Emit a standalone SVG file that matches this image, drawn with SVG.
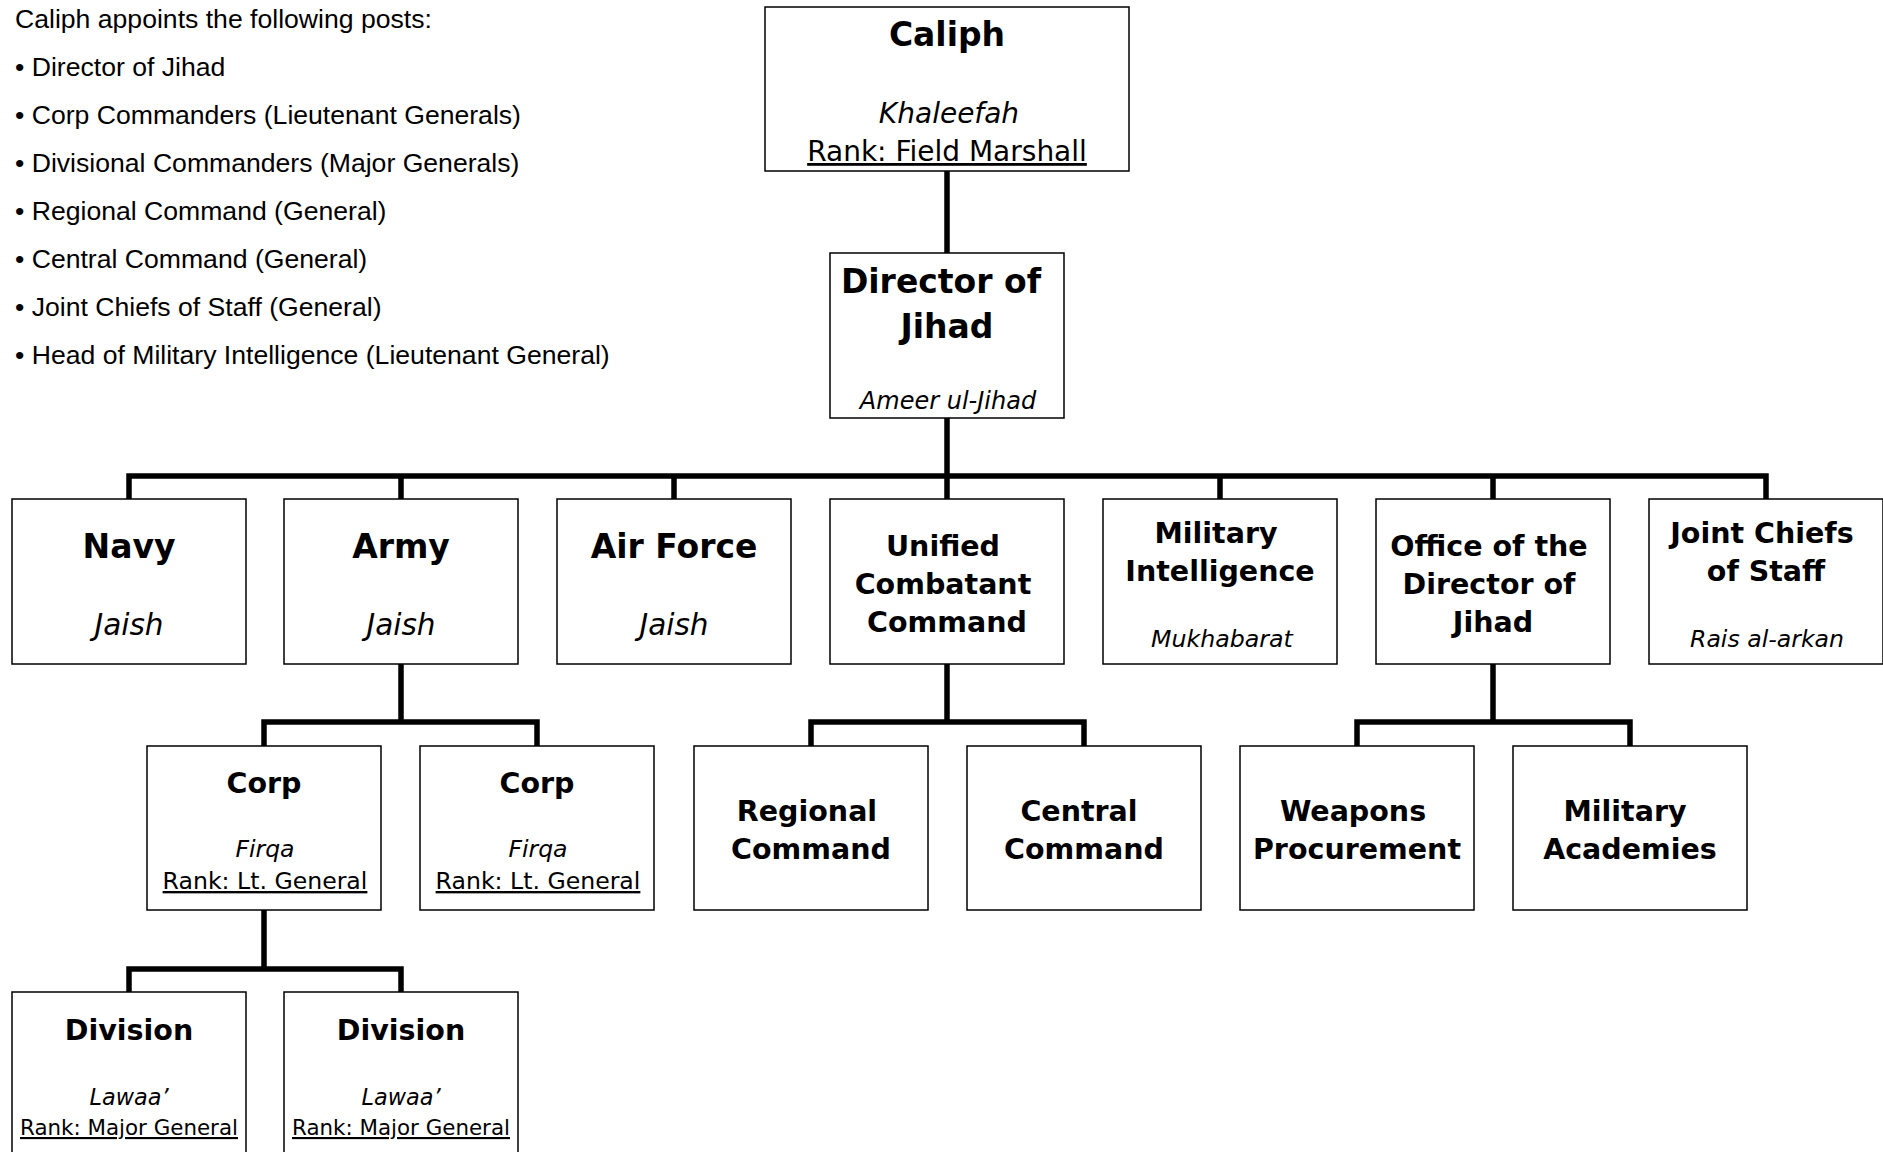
<svg xmlns="http://www.w3.org/2000/svg" width="1883" height="1152" viewBox="0 0 1883 1152">
<style>
.box{fill:#fff;stroke:#000;stroke-width:1.5}
.conn{fill:none;stroke:#000;stroke-width:5.5;stroke-linejoin:miter;stroke-linecap:butt}
.t1{font-family:"DejaVu Sans",sans-serif;font-weight:bold;font-size:33px;text-anchor:middle;fill:#000}
.t2{font-family:"DejaVu Sans",sans-serif;font-weight:bold;font-size:28.5px;text-anchor:middle;fill:#000}
.it{font-family:"DejaVu Sans",sans-serif;font-style:italic;text-anchor:middle;fill:#000}
.rk{font-family:"DejaVu Sans",sans-serif;text-anchor:middle;text-decoration:underline;fill:#000}
.list{font-family:"Liberation Sans",Arial,sans-serif;font-size:26.6px;fill:#000}
</style>
<rect width="1883" height="1152" fill="#fff"/>

<g id="appointments">
<text class="list" x="15" y="28">Caliph appoints the following posts:</text>
<text class="list" x="15" y="76">• Director of Jihad</text>
<text class="list" x="15" y="124">• Corp Commanders (Lieutenant Generals)</text>
<text class="list" x="15" y="172">• Divisional Commanders (Major Generals)</text>
<text class="list" x="15" y="220">• Regional Command (General)</text>
<text class="list" x="15" y="268">• Central Command (General)</text>
<text class="list" x="15" y="316">• Joint Chiefs of Staff (General)</text>
<text class="list" x="15" y="364">• Head of Military Intelligence (Lieutenant General)</text>
</g>

<g id="connectors">
<path class="conn" d="M947,171 V253"/>
<path class="conn" d="M947,418 V476"/>
<path class="conn" d="M129,499 V476 H1766 V499"/>
<path class="conn" d="M401,476 V499 M674,476 V499 M947,476 V499 M1220,476 V499 M1493,476 V499"/>
<path class="conn" d="M401,664 V722"/>
<path class="conn" d="M264,746 V722 H537 V746"/>
<path class="conn" d="M947,664 V722"/>
<path class="conn" d="M811,746 V722 H1084 V746"/>
<path class="conn" d="M1493,664 V722"/>
<path class="conn" d="M1357,746 V722 H1630 V746"/>
<path class="conn" d="M264,910 V969"/>
<path class="conn" d="M129,992 V969 H401 V992"/>
</g>

<g id="caliph">
<rect class="box" x="765" y="7" width="364" height="164"/>
<text class="t1" x="947" y="46">Caliph</text>
<text class="it" x="949" y="123" font-size="28">Khaleefah</text>
<text class="rk" x="947" y="161" font-size="28">Rank: Field Marshall</text>
</g>

<g id="director">
<rect class="box" x="830" y="253" width="234" height="165"/>
<text class="t1" x="941" y="293">Director of</text>
<text class="t1" x="947" y="338">Jihad</text>
<text class="it" x="948" y="409" font-size="24">Ameer ul-Jihad</text>
</g>

<g id="navy">
<rect class="box" x="12" y="499" width="234" height="165"/>
<text class="t1" x="129" y="558">Navy</text>
<text class="it" x="129" y="635" font-size="29.5">Jaish</text>
</g>

<g id="army">
<rect class="box" x="284" y="499" width="234" height="165"/>
<text class="t1" x="401" y="558">Army</text>
<text class="it" x="401" y="635" font-size="29.5">Jaish</text>
</g>

<g id="airforce">
<rect class="box" x="557" y="499" width="234" height="165"/>
<text class="t1" x="674" y="558">Air Force</text>
<text class="it" x="674" y="635" font-size="29.5">Jaish</text>
</g>

<g id="unified">
<rect class="box" x="830" y="499" width="234" height="165"/>
<text class="t2" x="943" y="556">Unified</text>
<text class="t2" x="943" y="594">Combatant</text>
<text class="t2" x="947" y="632">Command</text>
</g>

<g id="intelligence">
<rect class="box" x="1103" y="499" width="234" height="165"/>
<text class="t2" x="1216" y="543">Military</text>
<text class="t2" x="1220" y="581">Intelligence</text>
<text class="it" x="1222" y="647" font-size="23.7">Mukhabarat</text>
</g>

<g id="office">
<rect class="box" x="1376" y="499" width="234" height="165"/>
<text class="t2" x="1489" y="556">Office of the</text>
<text class="t2" x="1489" y="594">Director of</text>
<text class="t2" x="1493" y="632">Jihad</text>
</g>

<g id="jointchiefs">
<rect class="box" x="1649" y="499" width="234" height="165"/>
<text class="t2" x="1762" y="543">Joint Chiefs</text>
<text class="t2" x="1766" y="581">of Staff</text>
<text class="it" x="1767" y="647" font-size="23.6">Rais al-arkan</text>
</g>

<g id="corp1">
<rect class="box" x="147" y="746" width="234" height="164"/>
<text class="t2" x="264" y="793">Corp</text>
<text class="it" x="265" y="857" font-size="23.5">Firqa</text>
<text class="rk" x="265" y="889" font-size="23.6">Rank: Lt. General</text>
</g>

<g id="corp2">
<rect class="box" x="420" y="746" width="234" height="164"/>
<text class="t2" x="537" y="793">Corp</text>
<text class="it" x="538" y="857" font-size="23.5">Firqa</text>
<text class="rk" x="538" y="889" font-size="23.6">Rank: Lt. General</text>
</g>

<g id="regional">
<rect class="box" x="694" y="746" width="234" height="164"/>
<text class="t2" x="807" y="821">Regional</text>
<text class="t2" x="811" y="859">Command</text>
</g>

<g id="central">
<rect class="box" x="967" y="746" width="234" height="164"/>
<text class="t2" x="1079" y="821">Central</text>
<text class="t2" x="1084" y="859">Command</text>
</g>

<g id="weapons">
<rect class="box" x="1240" y="746" width="234" height="164"/>
<text class="t2" x="1353" y="821">Weapons</text>
<text class="t2" x="1357" y="859">Procurement</text>
</g>

<g id="academies">
<rect class="box" x="1513" y="746" width="234" height="164"/>
<text class="t2" x="1625" y="821">Military</text>
<text class="t2" x="1630" y="859">Academies</text>
</g>

<g id="division1">
<rect class="box" x="12" y="992" width="234" height="180"/>
<text class="t2" x="129" y="1040">Division</text>
<text class="it" x="129" y="1105" font-size="22.4">Lawaa’</text>
<text class="rk" x="129" y="1135" font-size="21.4">Rank: Major General</text>
</g>

<g id="division2">
<rect class="box" x="284" y="992" width="234" height="180"/>
<text class="t2" x="401" y="1040">Division</text>
<text class="it" x="401" y="1105" font-size="22.4">Lawaa’</text>
<text class="rk" x="401" y="1135" font-size="21.4">Rank: Major General</text>
</g>
</svg>
